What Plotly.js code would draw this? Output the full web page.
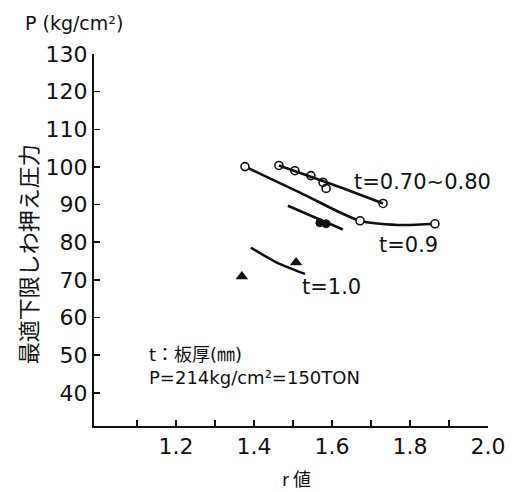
<!DOCTYPE html>
<html>
<head>
<meta charset="utf-8">
<script src="https://cdn.plot.ly/plotly-3.0.1.min.js"></script>
<style>html,body{margin:0;padding:0;background:#fff;}#chart{width:524px;height:492px;}</style>
</head>
<body>
<div id="chart"></div>
<script>
// t = 0.70~0.80 series (open circles)
const r_t070 = [1.464, 1.505, 1.546, 1.577, 1.585, 1.731];
const p_t070 = [100.4, 99.0, 97.7, 95.9, 94.3, 90.3];
const lineR_t070 = [1.464, 1.60, 1.731];
const lineP_t070 = [100.4, 95.4, 90.3];

// t = 0.9 series (open circles)
const r_t09 = [1.377, 1.672, 1.864];
const p_t09 = [100.1, 85.7, 84.9];
const lineR_t09 = [1.377, 1.518, 1.672, 1.769, 1.864];
const lineP_t09 = [100.1, 93.2, 85.7, 84.6, 84.9];

// intermediate series (filled circles)
const r_mid = [1.569, 1.585];
const p_mid = [85.2, 84.9];
const lineR_mid = [1.487, 1.628];
const lineP_mid = [89.7, 83.4];

// t = 1.0 series (filled triangles)
const r_t10 = [1.369, 1.508];
const p_t10 = [70.9, 74.6];
const lineR_t10 = [1.392, 1.459, 1.531];
const lineP_t10 = [78.6, 74.6, 71.6];

// axis ticks
const xTickVals = [1.1, 1.2, 1.3, 1.4, 1.5, 1.6, 1.7, 1.8, 1.9, 2.0];
const xTickText = ["", "1.2", "", "1.4", "", "1.6", "", "1.8", "", "2.0"];
const yTickVals = [40, 50, 60, 70, 80, 90, 100, 110, 120, 130];
const yTickText = ["40", "50", "60", "70", "80", "90", "100", "110", "120", "130"];

const LAT = "DejaVu Sans, Noto Sans CJK JP, sans-serif";
const JP = "Noto Sans CJK JP, DejaVu Sans, sans-serif";

const lineStyle = {color: "#111", width: 2.6, shape: "spline", smoothing: 0.8};

const traces = [
  {x: lineR_t070, y: lineP_t070, mode: "lines", line: lineStyle, hoverinfo: "skip"},
  {x: lineR_t09, y: lineP_t09, mode: "lines", line: lineStyle, hoverinfo: "skip"},
  {x: lineR_mid, y: lineP_mid, mode: "lines", line: lineStyle, hoverinfo: "skip"},
  {x: lineR_t10, y: lineP_t10, mode: "lines", line: lineStyle, hoverinfo: "skip"},
  {x: r_t070, y: p_t070, mode: "markers",
   marker: {symbol: "circle-open", size: 8, color: "#111", line: {width: 1.6, color: "#111"}}},
  {x: r_t09, y: p_t09, mode: "markers",
   marker: {symbol: "circle", size: 8, color: "#fff", line: {width: 1.6, color: "#111"}}},
  {x: r_mid, y: p_mid, mode: "markers",
   marker: {symbol: "circle", size: 8, color: "#111", line: {width: 1, color: "#111"}}},
  {x: r_t10, y: p_t10, mode: "markers",
   marker: {symbol: "triangle-up", size: 11, color: "#111", line: {width: 0}}}
];

const layout = {
  width: 524, height: 492,
  margin: {l: 94, r: 36, t: 54, b: 66, pad: 0},
  paper_bgcolor: "#fff", plot_bgcolor: "#fff",
  showlegend: false,
  font: {family: LAT, color: "#111"},
  xaxis: {
    range: [0.99, 2.0], showgrid: false, zeroline: false,
    showline: true, linecolor: "#111", linewidth: 2,
    tickmode: "array", tickvals: xTickVals, ticktext: xTickText,
    ticks: "inside", ticklen: 6, tickwidth: 1.6, tickcolor: "#111",
    tickfont: {family: LAT, size: 22, color: "#111"}
  },
  yaxis: {
    range: [31.2, 130], showgrid: false, zeroline: false,
    showline: true, linecolor: "#111", linewidth: 2,
    tickmode: "array", tickvals: yTickVals, ticktext: yTickText,
    ticks: "inside", ticklen: 6, tickwidth: 1.6, tickcolor: "#111",
    tickfont: {family: LAT, size: 22, color: "#111"}
  },
  annotations: [
    {xref: "paper", yref: "paper", x: -0.180, y: 1.083, xanchor: "left", yanchor: "middle",
     text: "P (kg/cm²)", showarrow: false, font: {family: LAT, size: 19, color: "#111"}},
    {xref: "paper", yref: "paper", x: -0.170, y: 0.462, xanchor: "center", yanchor: "middle",
     text: "最適下限しわ押え圧力", textangle: -90, showarrow: false,
     font: {family: JP, size: 22, color: "#111"}},
    {xref: "paper", yref: "paper", x: 0.515, y: -0.140, xanchor: "center", yanchor: "middle",
     text: "r 値", showarrow: false, font: {family: JP, size: 18, color: "#111"}},
    {xref: "x", yref: "y", x: 1.6515, y: 96.0, xanchor: "left", yanchor: "middle",
     text: "t=0.70∼0.80", showarrow: false, font: {family: LAT, size: 21, color: "#111"}},
    {xref: "x", yref: "y", x: 1.716, y: 79.3, xanchor: "left", yanchor: "middle",
     text: "t=0.9", showarrow: false, font: {family: LAT, size: 21, color: "#111"}},
    {xref: "x", yref: "y", x: 1.518, y: 68.1, xanchor: "left", yanchor: "middle",
     text: "t=1.0", showarrow: false, font: {family: LAT, size: 21, color: "#111"}},
    {xref: "x", yref: "y", x: 1.126, y: 50.1, xanchor: "left", yanchor: "middle",
     text: "t：板厚(㎜)", showarrow: false, font: {family: LAT, size: 18, color: "#111"}},
    {xref: "x", yref: "y", x: 1.126, y: 43.95, xanchor: "left", yanchor: "middle",
     text: "P=214kg/cm²=150TON", showarrow: false, font: {family: LAT, size: 18, color: "#111"}}
  ]
};

Plotly.newPlot("chart", traces, layout, {displayModeBar: false, staticPlot: true});
</script>
</body>
</html>
